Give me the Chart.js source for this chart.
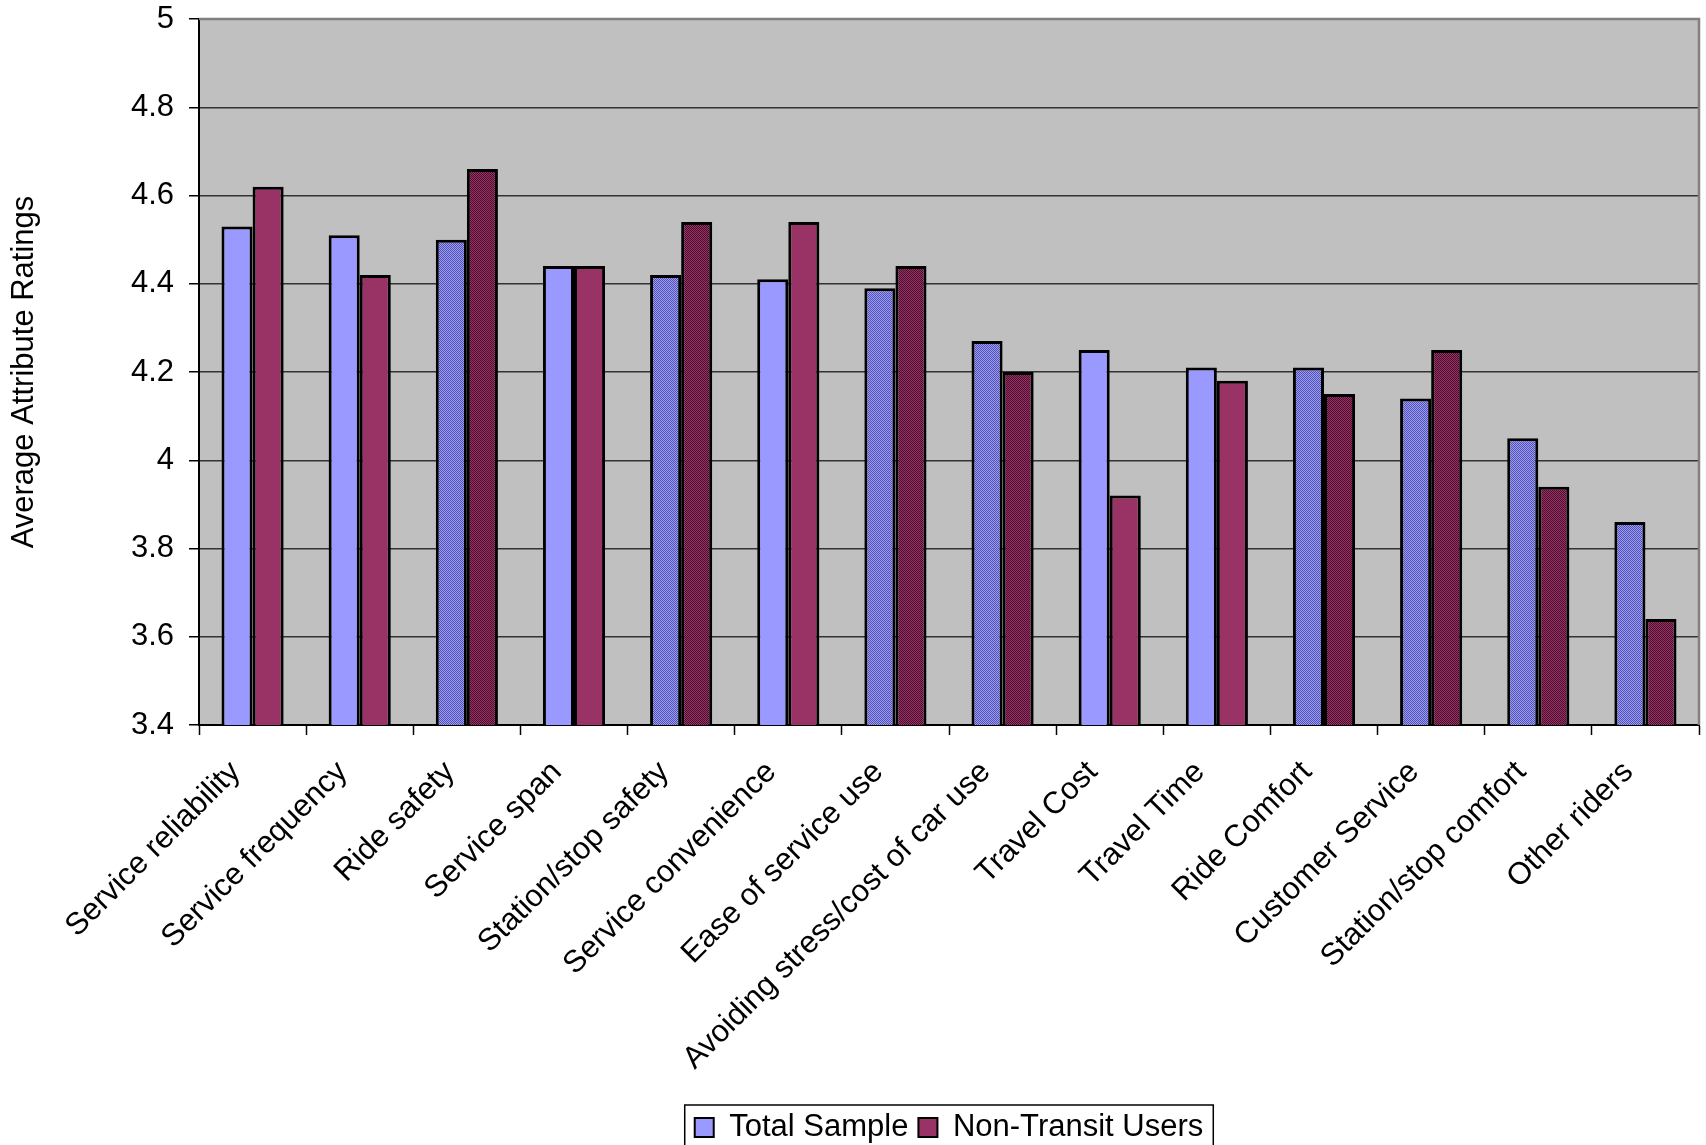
<!DOCTYPE html>
<html lang="en">
<head>
<meta charset="UTF-8">
<title>Average Attribute Ratings</title>
<script src="https://cdn.jsdelivr.net/npm/chart.js"></script>
<style>
    html, body { margin: 0; padding: 0; background: #fff; }
    #wrap { width: 1706px; height: 1145px; }
</style>
</head>
<body>
<div id="wrap"><canvas id="ratingsChart" width="1706" height="1145"></canvas></div>
<script>
// chart data
const categories = [
    'Service reliability', 'Service frequency', 'Ride safety', 'Service span',
    'Station/stop safety', 'Service convenience', 'Ease of service use',
    'Avoiding stress/cost of car use', 'Travel Cost', 'Travel Time',
    'Ride Comfort', 'Customer Service', 'Station/stop comfort', 'Other riders'
];
const totalSample = [4.53, 4.51, 4.50, 4.44, 4.42, 4.41, 4.39, 4.27, 4.25, 4.21, 4.21, 4.14, 4.05, 3.86];
const nonTransitUsers = [4.62, 4.42, 4.66, 4.44, 4.54, 4.54, 4.44, 4.20, 3.92, 4.18, 4.15, 4.25, 3.94, 3.64];
const yTickValues = [3.4, 3.6, 3.8, 4, 4.2, 4.4, 4.6, 4.8, 5];
const seriesNames = ['Total Sample', 'Non-Transit Users'];

// bars drawn with the dithered fill in the original
const ditheredBars = [2, 4, 6, 7, 10, 11, 12, 13];

const FONT = 'Liberation Sans, Arial, sans-serif';

function dither(light, dark) {
    const c = document.createElement('canvas');
    c.width = 2; c.height = 2;
    const g = c.getContext('2d');
    g.fillStyle = light; g.fillRect(0, 0, 2, 2);
    g.fillStyle = dark; g.fillRect(0, 0, 1, 1); g.fillRect(1, 1, 1, 1);
    return g.createPattern(c, 'repeat');
}

const blue = '#9999ff', maroon = '#993366';
const blueDither = dither('#9999ff', '#5555a8');
const maroonDither = dither('#993366', '#4a0f2c');
const fills = (plain, dithered) => categories.map((_, i) => ditheredBars.includes(i) ? dithered : plain);

const plotFrame = {
    id: 'plotFrame',
    beforeDraw(chart) {
        const a = chart.chartArea, ctx = chart.ctx;
        ctx.save();
        ctx.fillStyle = '#c0c0c0';
        ctx.fillRect(a.left, a.top, a.right - a.left, a.bottom - a.top);
        ctx.restore();
    },
    afterDraw(chart) {
        const a = chart.chartArea, ctx = chart.ctx;
        ctx.save();
        ctx.strokeStyle = '#808080';
        ctx.lineWidth = 2.5;
        ctx.beginPath();
        ctx.moveTo(a.left, a.top);
        ctx.lineTo(a.right, a.top);
        ctx.lineTo(a.right, a.bottom);
        ctx.stroke();
        // frame round the legend
        const boxes = chart.legend.legendHitBoxes;
        if (boxes && boxes.length) {
            const first = boxes[0], last = boxes[boxes.length - 1];
            ctx.strokeStyle = '#000';
            ctx.lineWidth = 1.5;
            ctx.strokeRect(first.left - 10, first.top - 7, last.left + last.width - first.left + 20, 80);
        }
        ctx.restore();
    }
};

new Chart(document.getElementById('ratingsChart'), {
    type: 'bar',
    data: {
        labels: categories,
        datasets: [{
            label: seriesNames[0],
            data: totalSample,
            backgroundColor: fills(blue, blueDither),
            borderColor: '#000',
            borderWidth: 3,
            borderSkipped: false
        }, {
            label: seriesNames[1],
            data: nonTransitUsers,
            backgroundColor: fills(maroon, maroonDither),
            borderColor: '#000',
            borderWidth: 3,
            borderSkipped: false
        }]
    },
    options: {
        responsive: false,
        animation: false,
        layout: { padding: { left: 0, right: 7, top: 19, bottom: -8 } },
        datasets: { bar: { categoryPercentage: 0.58, barPercentage: 1 } },
        plugins: {
            tooltip: { enabled: false },
            legend: {
                position: 'bottom',
                fullSize: false,
                labels: {
                    color: '#000',
                    font: { family: FONT, size: 31 },
                    boxWidth: 19,
                    boxHeight: 19,
                    padding: 10,
                    generateLabels: () => seriesNames.map((name, i) => ({
                        text: name,
                        fillStyle: i === 0 ? blue : maroon,
                        strokeStyle: '#000',
                        lineWidth: 2,
                        hidden: false,
                        datasetIndex: i
                    }))
                }
            }
        },
        scales: {
            x: {
                afterFit: s => { s.height = 377; },
                grid: {
                    offset: true,
                    drawOnChartArea: false,
                    tickLength: 10,
                    tickColor: '#000',
                    tickWidth: 1.5
                },
                border: { color: '#000', width: 2 },
                ticks: {
                    color: '#000',
                    font: { family: FONT, size: 31 },
                    minRotation: 45,
                    maxRotation: 45,
                    autoSkip: false,
                    padding: 19,
                    labelOffset: -17
                }
            },
            y: {
                min: 3.4,
                max: 5,
                afterFit: s => { s.width = 199; s.paddingTop = 0; s.paddingBottom = 0; },
                afterBuildTicks: s => { s.ticks = yTickValues.map(v => ({ value: v })); },
                grid: {
                    color: '#333',
                    lineWidth: 1.5,
                    tickLength: 10,
                    tickColor: '#000'
                },
                border: { color: '#000', width: 2 },
                ticks: {
                    color: '#000',
                    font: { family: FONT, size: 31 },
                    padding: 15,
                    callback: v => String(Number(v.toFixed(1)))
                },
                title: {
                    display: true,
                    text: 'Average Attribute Ratings',
                    color: '#000',
                    font: { family: FONT, size: 31 },
                    padding: { top: 6, bottom: 0 }
                }
            }
        }
    },
    plugins: [plotFrame]
});
</script>
</body>
</html>
